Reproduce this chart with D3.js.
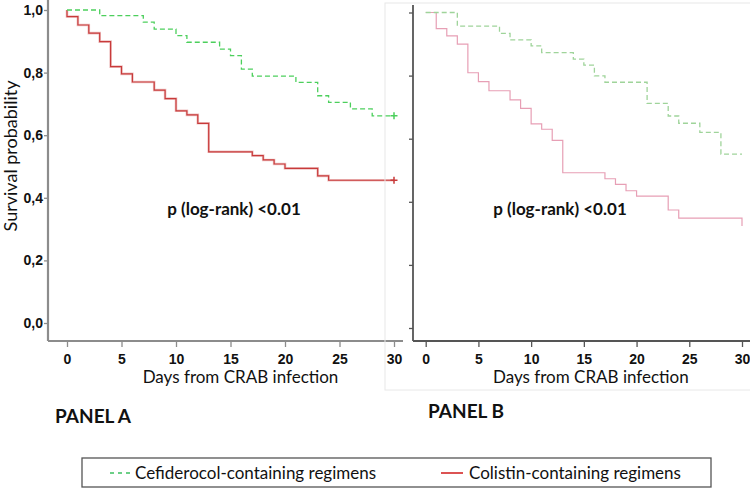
<!DOCTYPE html>
<html><head><meta charset="utf-8">
<script src="https://cdn.jsdelivr.net/npm/d3@7"></script>
<style>
html,body{margin:0;padding:0;background:#fff;}
svg{display:block;font-family:Lato,"Open Sans",sans-serif;}
</style></head>
<body><svg id="c" width="750" height="488"></svg>
<script>
// ---- data ----
const yTicks = [0, 0.2, 0.4, 0.6, 0.8, 1.0];
const xTicks = [0, 5, 10, 15, 20, 25, 30];
const seriesNames = ["Cefiderocol-containing regimens", "Colistin-containing regimens"];
// Panel A
const cefA_days = [3, 7, 8, 10, 11, 14, 15, 16, 17, 21, 23, 24, 26, 28];
const cefA_surv = [0.982, 0.961, 0.939, 0.918, 0.897, 0.875, 0.854, 0.811, 0.789, 0.769, 0.726, 0.705, 0.684, 0.662];
const colA_days = [0, 1, 2, 3, 4, 5, 6, 8, 9, 10, 11, 12, 13, 17, 18, 19, 20, 23, 24];
const colA_surv = [0.979, 0.952, 0.926, 0.899, 0.819, 0.796, 0.770, 0.744, 0.717, 0.678, 0.665, 0.638, 0.547, 0.535, 0.521, 0.508, 0.494, 0.470, 0.456];
// Panel B
const cefB_days = [3, 7, 8, 10, 11, 14, 15, 16, 17, 21, 23, 24, 26, 28];
const cefB_surv = [0.957, 0.934, 0.913, 0.894, 0.873, 0.852, 0.833, 0.799, 0.779, 0.712, 0.672, 0.649, 0.620, 0.551];
const colB_days = [1, 2, 3, 4, 5, 6, 8, 9, 10, 11, 12, 13, 17, 18, 19, 20, 23, 24, 30];
const colB_surv = [0.949, 0.926, 0.900, 0.809, 0.781, 0.752, 0.723, 0.696, 0.647, 0.630, 0.595, 0.492, 0.473, 0.455, 0.435, 0.418, 0.374, 0.348, 0.323];
const endDay = 30;
const pText = "p (log-rank) <0.01";

// ---- drawing ----
const svg = d3.select("#c");
function kmPoints(days, surv){
  const pts = [[0,1]];
  days.forEach((d,i)=>pts.push([d, surv[i]]));
  const last = pts[pts.length-1];
  if (last[0] < endDay) pts.push([endDay, last[1]]);
  return pts;
}
function panel(o){
  const g = svg.append("g");
  if (o.frame) {
    g.append("rect").attr("x",o.frame[0]).attr("y",o.frame[1]).attr("width",o.frame[2]).attr("height",o.frame[3])
      .attr("fill","none").attr("stroke","#e8e8e8").attr("stroke-width",1);
  }
  const x = d3.scaleLinear().domain([0,30]).range(o.xr);
  const y = d3.scaleLinear().domain([0,1]).range(o.yr);
  // y axis
  const ya = g.append("g").attr("transform",`translate(${o.axX},0)`)
    .call(d3.axisLeft(y).tickValues(yTicks).tickSize(4).tickSizeOuter(0)
      .tickFormat(o.yLabels ? (d=>d.toFixed(1).replace(".",",")) : ""));
  ya.select(".domain").remove();
  ya.selectAll(".tick line").attr("stroke",o.axColor).attr("stroke-width",1.3);
  ya.selectAll(".tick text").attr("font-size",14).attr("font-weight","bold").attr("fill","#111").attr("x",-5);
  g.append("line").attr("x1",o.axX).attr("x2",o.axX).attr("y1",o.axTop).attr("y2",o.axY)
    .attr("stroke",o.axColor).attr("stroke-width",o.axW);
  // x axis
  const xa = g.append("g").attr("transform",`translate(0,${o.axY})`)
    .call(d3.axisBottom(x).tickValues(xTicks).tickSize(6).tickSizeOuter(0));
  xa.select(".domain").remove();
  xa.selectAll(".tick line").attr("stroke",o.axColor).attr("stroke-width",1.3);
  xa.selectAll(".tick text").attr("font-size",14).attr("font-weight","bold").attr("fill","#111").attr("y",13);
  g.append("line").attr("x1",o.axX).attr("x2",o.axRight).attr("y1",o.axY).attr("y2",o.axY)
    .attr("stroke",o.axColor).attr("stroke-width",o.axW);
  g.append("text").attr("x",(x(0)+x(30))/2+o.titleDx).attr("y",383).attr("text-anchor","middle")
    .attr("font-size",17).attr("fill","#111").text("Days from CRAB infection");
  g.append("text").attr("x",o.pX).attr("y",215).attr("text-anchor","middle")
    .attr("font-size",17).attr("font-weight","bold").attr("fill","#111").text(pText);
  const line = d3.line().x(d=>x(d[0])).y(d=>y(d[1])).curve(d3.curveStepAfter);
  // colistin
  const pr = kmPoints(o.colDays, o.colSurv);
  if (o.halo) g.append("path").attr("d",line(pr)).attr("fill","none").attr("stroke","#efc4c4").attr("stroke-width",2.6);
  g.append("path").attr("d",line(pr)).attr("fill","none").attr("stroke",o.red).attr("stroke-width",1.2);
  // cefiderocol
  const pg = kmPoints(o.cefDays, o.cefSurv);
  g.append("path").attr("d",line(pg)).attr("fill","none").attr("stroke",o.green)
    .attr("stroke-width",1.3).attr("stroke-dasharray","5,3");
  if (o.censor) {
    const cg = pg[pg.length-1], cr = pr[pr.length-1];
    [[cg,o.green],[cr,o.red]].forEach(([p,c])=>{
      g.append("path")
        .attr("transform",`translate(${x(p[0])},${y(p[1])})`)
        .attr("fill","none").attr("stroke",c).attr("stroke-width",1.5)
        .attr("d",`M-3.5,0H3.5M0,-3.5V3.5`);
    });
  }
}
panel({xr:[67,394], yr:[323,10], axX:48, axTop:0, axY:341, axRight:403, axColor:"#8c8c8c", axW:2.2,
  yLabels:true, titleDx:10, pX:234, cefDays:cefA_days, cefSurv:cefA_surv, colDays:colA_days, colSurv:colA_surv,
  green:"#4ccf5c", red:"#c83a3a", halo:true, censor:true});
panel({xr:[425.7,742], yr:[328,12.5], axX:413, axTop:5, axY:341, axRight:750, axColor:"#555", axW:1.8,
  yLabels:false, titleDx:7, pX:560, cefDays:cefB_days, cefSurv:cefB_surv, colDays:colB_days, colSurv:colB_surv,
  green:"#9fd49a", red:"#e79fb5", halo:false, censor:false, frame:[385,3,380,387]});

// y title
svg.append("text").attr("transform","translate(17,156) rotate(-90)").attr("text-anchor","middle")
  .attr("font-size",18).attr("fill","#111").text("Survival probability");
// panel labels
svg.append("text").attr("x",55).attr("y",423).attr("font-size",19).attr("font-weight","bold").attr("fill","#111").text("PANEL A");
svg.append("text").attr("x",428).attr("y",418).attr("font-size",19).attr("font-weight","bold").attr("fill","#111").text("PANEL B");
// legend
const lg = svg.append("g");
lg.append("rect").attr("x",82).attr("y",458).attr("width",629).attr("height",29)
  .attr("fill","#fff").attr("stroke","#555").attr("stroke-width",1.3);
lg.append("line").attr("x1",110).attr("x2",132).attr("y1",473).attr("y2",473)
  .attr("stroke","#3cc060").attr("stroke-width",1.6).attr("stroke-dasharray","4,4");
lg.append("text").attr("x",135).attr("y",479).attr("font-size",17).attr("fill","#111").text(seriesNames[0]);
lg.append("line").attr("x1",441).attr("x2",463).attr("y1",473).attr("y2",473)
  .attr("stroke","#d94040").attr("stroke-width",1.8);
lg.append("text").attr("x",469).attr("y",479).attr("font-size",17).attr("fill","#111").text(seriesNames[1]);
</script></body></html>
